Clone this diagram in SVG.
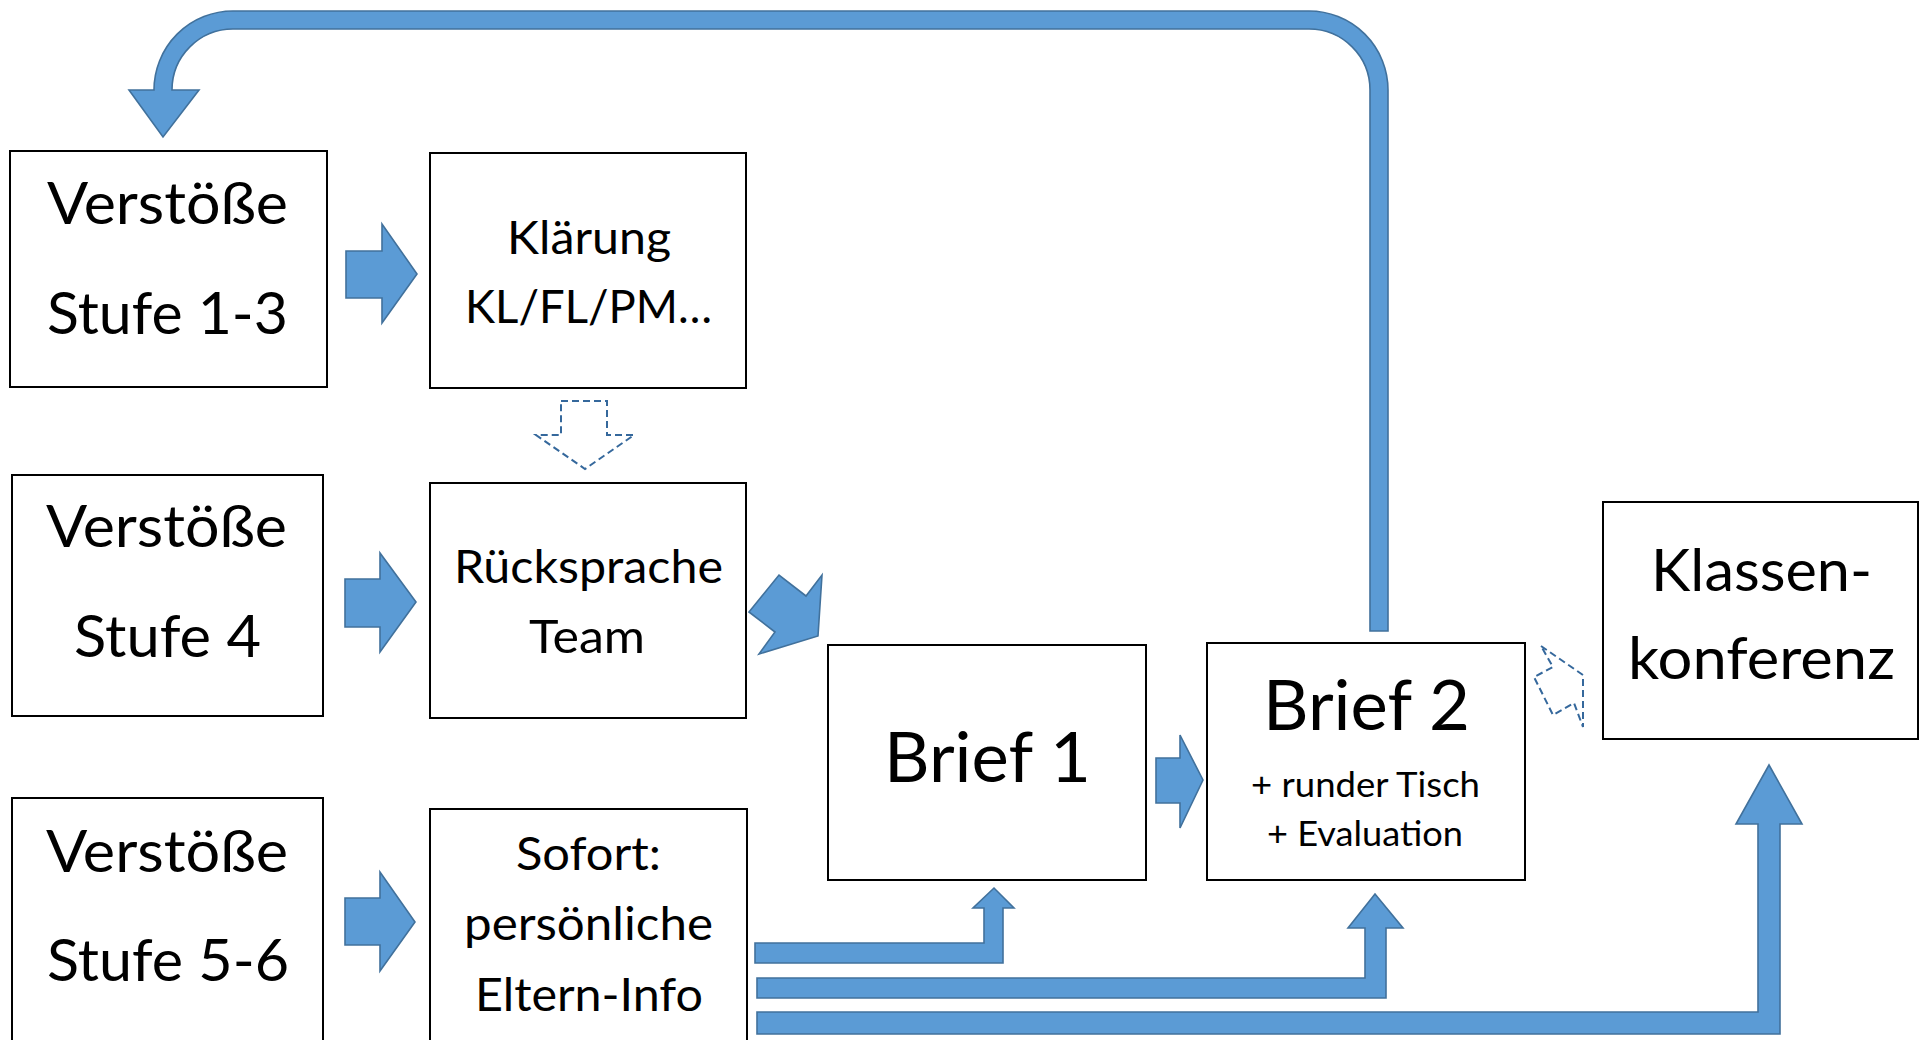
<svg xmlns="http://www.w3.org/2000/svg" width="1919" height="1040" viewBox="0 0 1919 1040">
<style>
.box{fill:#fff;stroke:#000;stroke-width:2}
.t{font-family:Lato,"Open Sans",sans-serif;fill:#000}
.big{font-size:58px}
.mid{font-size:46px}
.huge{font-size:70px}
.sm{font-size:35px}
.ar{fill:#5b9bd5;stroke:#41719c;stroke-width:1.6;stroke-linejoin:miter}
.da{fill:#fff;stroke:#35689c;stroke-width:2;stroke-dasharray:7 4}
</style>
<rect width="1919" height="1040" fill="#fff"/>
<g id="connectors">
<path class="ar" d="M 1370 631 L 1370 90 A 61 61 0 0 0 1309 29 L 233 29 A 61 61 0 0 0 172 90 L 199 90 L 163 137 L 129 90 L 154 90 A 79 79 0 0 1 233 11 L 1309 11 A 79 79 0 0 1 1388 90 L 1388 631 Z"/>
<polygon class="ar" points="346,251 382,251 382,224 417,274 382,323 382,298 346,298"/>
<polygon class="ar" points="345,579 380,579 380,553 416,602 380,652 380,627 345,627"/>
<polygon class="ar" points="345,898 380,898 380,872 415,922 380,971 380,945 345,945"/>
<polygon class="ar" points="1156,758 1180,758 1180,735 1203,780 1180,828 1180,803 1156,803"/>
<polygon class="da" points="561,401 607,401 607,435 634,435 585,469 536,435 561,435"/>
<polygon class="ar" points="749,612 779,575 806,596 822,575 818,636 759,654 775,632"/>
<polygon class="da" points="1541,646 1583,675 1583,727 1574,703 1553,715 1534,677 1553,667"/>
<path class="ar" d="M 755 943 L 984 943 L 984 908 L 973 908 L 994 888 L 1014 908 L 1003 908 L 1003 963 L 755 963 Z"/>
<path class="ar" d="M 757 978 L 1365 978 L 1365 928 L 1348 928 L 1375 894 L 1403 928 L 1386 928 L 1386 998 L 757 998 Z"/>
<path class="ar" d="M 757 1012 L 1758 1012 L 1758 824 L 1736 824 L 1769 765 L 1802 824 L 1780 824 L 1780 1034 L 757 1034 Z"/>
</g>
<g id="n-stufe13">
<rect class="box" x="10" y="151" width="317" height="236"/>
<text class="t big" x="47" y="224" textLength="241" lengthAdjust="spacingAndGlyphs">Verstöße</text>
<text class="t big" x="47" y="334" textLength="241" lengthAdjust="spacingAndGlyphs">Stufe 1-3</text>
</g>
<g id="n-klaerung">
<rect class="box" x="430" y="153" width="316" height="235"/>
<text class="t mid" x="507" y="254" textLength="164" lengthAdjust="spacingAndGlyphs">Klärung</text>
<text class="t mid" x="465" y="323" textLength="247" lengthAdjust="spacingAndGlyphs">KL/FL/PM…</text>
</g>
<g id="n-stufe4">
<rect class="box" x="12" y="475" width="311" height="241"/>
<text class="t big" x="46" y="547" textLength="241" lengthAdjust="spacingAndGlyphs">Verstöße</text>
<text class="t big" x="74" y="657" textLength="187" lengthAdjust="spacingAndGlyphs">Stufe 4</text>
</g>
<g id="n-ruecksprache">
<rect class="box" x="430" y="483" width="316" height="235"/>
<text class="t mid" x="454" y="583" textLength="269" lengthAdjust="spacingAndGlyphs">Rücksprache</text>
<text class="t mid" x="529" y="653" textLength="116" lengthAdjust="spacingAndGlyphs">Team</text>
</g>
<g id="n-stufe56">
<rect class="box" x="12" y="798" width="311" height="260"/>
<text class="t big" x="46" y="872" textLength="242" lengthAdjust="spacingAndGlyphs">Verstöße</text>
<text class="t big" x="47" y="981" textLength="242" lengthAdjust="spacingAndGlyphs">Stufe 5-6</text>
</g>
<g id="n-sofort">
<rect class="box" x="430" y="809" width="317" height="250"/>
<text class="t mid" x="516" y="870" textLength="145" lengthAdjust="spacingAndGlyphs">Sofort:</text>
<text class="t mid" x="464" y="940" textLength="249" lengthAdjust="spacingAndGlyphs">persönliche</text>
<text class="t mid" x="475" y="1011" textLength="228" lengthAdjust="spacingAndGlyphs">Eltern-Info</text>
</g>
<g id="n-brief1">
<rect class="box" x="828" y="645" width="318" height="235"/>
<text class="t huge" x="884" y="782" textLength="207" lengthAdjust="spacingAndGlyphs">Brief 1</text>
</g>
<g id="n-brief2">
<rect class="box" x="1207" y="643" width="318" height="237"/>
<text class="t huge" x="1263" y="730" textLength="207" lengthAdjust="spacingAndGlyphs">Brief 2</text>
<text class="t sm" x="1251" y="797" textLength="229" lengthAdjust="spacingAndGlyphs">+ runder Tisch</text>
<text class="t sm" x="1267" y="846" textLength="196" lengthAdjust="spacingAndGlyphs">+ Evaluation</text>
</g>
<g id="n-klassenkonferenz">
<rect class="box" x="1603" y="502" width="315" height="237"/>
<text class="t big" x="1651" y="591" textLength="221" lengthAdjust="spacingAndGlyphs">Klassen-</text>
<text class="t big" x="1628" y="679" textLength="267" lengthAdjust="spacingAndGlyphs">konferenz</text>
</g>
</svg>
